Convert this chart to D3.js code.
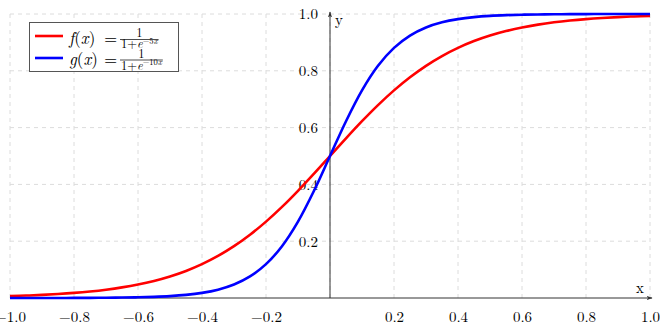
<!DOCTYPE html>
<html>
<head>
<meta charset="utf-8">
<script src="https://cdn.jsdelivr.net/npm/d3@7"></script>
<style>
  html, body { margin: 0; padding: 0; background: #fff; }
  svg { display: block; }
</style>
</head>
<body>
<svg id="chart" width="660" height="330"></svg>
<script>
// ---- data ----
const xValues = [-1.00,-0.95,-0.90,-0.85,-0.80,-0.75,-0.70,-0.65,-0.60,-0.55,-0.50,-0.45,-0.40,-0.35,-0.30,-0.25,-0.20,-0.15,-0.10,-0.05,
                 0.00,0.05,0.10,0.15,0.20,0.25,0.30,0.35,0.40,0.45,0.50,0.55,0.60,0.65,0.70,0.75,0.80,0.85,0.90,0.95,1.00];
const fValues = [0.0067,0.0086,0.0110,0.0141,0.0180,0.0230,0.0293,0.0373,0.0474,0.0601,0.0759,0.0953,0.1192,0.1480,0.1824,0.2227,0.2689,0.3208,0.3775,0.4378,
                 0.5000,0.5622,0.6225,0.6792,0.7311,0.7773,0.8176,0.8520,0.8808,0.9047,0.9241,0.9399,0.9526,0.9627,0.9707,0.9770,0.9820,0.9859,0.9890,0.9914,0.9933];
const gValues = [0.00005,0.00007,0.00012,0.0002,0.00034,0.00055,0.00091,0.0015,0.0025,0.0041,0.0067,0.0110,0.0180,0.0293,0.0474,0.0759,0.1192,0.1824,0.2689,0.3775,
                 0.5000,0.6225,0.7311,0.8176,0.8808,0.9241,0.9526,0.9707,0.9820,0.9890,0.9933,0.9959,0.9975,0.9985,0.99909,0.99945,0.99966,0.9998,0.99988,0.99993,0.99995];
const xTicks = [-1.0,-0.8,-0.6,-0.4,-0.2,0.2,0.4,0.6,0.8,1.0];
const yTicks = [0.2,0.4,0.6,0.8,1.0];
const xGrid = [-1.0,-0.8,-0.6,-0.4,-0.2,0,0.2,0.4,0.6,0.8,1.0];
const yGrid = [0.2,0.4,0.6,0.8,1.0];
const seriesNames = ["f", "g"];
const seriesExponents = ["\u22125", "\u221210"];
const seriesColors = ["#ff0000", "#0000ff"];

// ---- layout ----
const FONT = "'Latin Modern Roman', 'CMU Serif', 'Liberation Serif', serif";
const svg = d3.select("#chart");
const x = d3.scaleLinear().domain([-1, 1]).range([10, 650]);
const y = d3.scaleLinear().domain([0, 1]).range([298, 14]);
const fmt = d => d3.format(".1f")(d).replace("-", "\u2212");

// grid
const grid = svg.append("g").attr("stroke", "#dcdcdc").attr("stroke-width", 1).attr("stroke-dasharray", "4,4");
grid.selectAll("line.v").data(xGrid).join("line")
  .attr("x1", d => x(d)).attr("x2", d => x(d))
  .attr("y1", y(0)).attr("y2", y(1));
grid.selectAll("line.h").data(yGrid).join("line")
  .attr("x1", x(-1)).attr("x2", x(1))
  .attr("y1", d => y(d)).attr("y2", d => y(d));

// arrow marker
svg.append("defs").append("marker")
  .attr("id", "arr").attr("viewBox", "0 0 10 10").attr("refX", 9).attr("refY", 5)
  .attr("markerWidth", 6).attr("markerHeight", 6).attr("orient", "auto")
  .append("path").attr("d", "M0,1.5 L10,5 L0,8.5 L2.5,5 Z").attr("fill", "#333");

// axis lines
svg.append("line").attr("x1", x(-1)).attr("x2", x(1) + 2).attr("y1", y(0)).attr("y2", y(0))
  .attr("stroke", "#333").attr("stroke-width", 1).attr("marker-end", "url(#arr)");
svg.append("line").attr("x1", x(0)).attr("x2", x(0)).attr("y1", y(0)).attr("y2", y(1) - 2)
  .attr("stroke", "#333").attr("stroke-width", 1).attr("marker-end", "url(#arr)");

// tick labels via d3 axes
const xAxis = d3.axisBottom(x).tickValues(xTicks).tickFormat(fmt).tickSize(0).tickPadding(13);
const gx = svg.append("g").attr("transform", `translate(0,${y(0)})`).call(xAxis);
gx.select(".domain").remove();
gx.selectAll("text").style("font-family", FONT).style("font-size", "15px").attr("fill", "#000");

const yAxis = d3.axisLeft(y).tickValues(yTicks).tickFormat(fmt).tickSize(0).tickPadding(12);
const gy = svg.append("g").attr("transform", `translate(${x(0)},0)`).call(yAxis);
gy.select(".domain").remove();
gy.selectAll("text").style("font-family", FONT).style("font-size", "15px").attr("fill", "#000");

// axis labels
svg.append("text").attr("x", x(1) - 10).attr("y", y(0) - 5).style("font-family", FONT).style("font-size", "15px")
  .attr("text-anchor", "middle").text("x");
svg.append("text").attr("x", x(0) + 5).attr("y", y(1) + 11).style("font-family", FONT).style("font-size", "15px").text("y");

// curves
const line = d3.line().x((d, i) => x(xValues[i])).y(d => y(d)).curve(d3.curveCatmullRom.alpha(0.5));
[fValues, gValues].forEach((vals, i) => {
  svg.append("path").datum(vals).attr("d", line)
    .attr("fill", "none").attr("stroke", seriesColors[i]).attr("stroke-width", 2.6)
    .attr("stroke-linejoin", "round");
});

// legend
const lg = svg.append("g");
lg.append("rect").attr("x", 29.5).attr("y", 22.5).attr("width", 149).attr("height", 49)
  .attr("fill", "#fff").attr("stroke", "#555").attr("stroke-width", 1);
const rows = [{lineY: 36, base: 44, num: 37, bar: 39.5, den: 48},
              {lineY: 58, base: 64.5, num: 57.5, bar: 60, den: 69.5}];
rows.forEach((r, i) => {
  lg.append("line").attr("x1", 35).attr("x2", 63).attr("y1", r.lineY).attr("y2", r.lineY)
    .attr("stroke", seriesColors[i]).attr("stroke-width", 2.6);
  // one text element per legend entry: f(x) = 1 / (1+e^{-5x})
  const t = lg.append("text").attr("x", 69).attr("y", r.base).style("font-family", FONT).style("font-size", "17px");
  t.append("tspan").style("font-style", "italic").text(seriesNames[i]);
  t.append("tspan").text("(");
  t.append("tspan").style("font-style", "italic").text("x");
  t.append("tspan").text(")");
  t.append("tspan").attr("x", 104).text("=");
  const d1 = t.append("tspan").attr("x", 121).attr("y", r.den).style("font-size", "12.5px").text("1+");
  const d2 = t.append("tspan").style("font-size", "12.5px").style("font-style", "italic").text("e");
  const d3s = t.append("tspan").style("font-size", "8.5px").attr("dy", -4.5).text(seriesExponents[i]);
  const d4 = t.append("tspan").style("font-size", "8.5px").style("font-style", "italic").text("x");
  const w = [d1, d2, d3s, d4].reduce((s, n) => s + n.node().getComputedTextLength(), 0);
  t.append("tspan").attr("x", 121 + w / 2).attr("y", r.num).attr("text-anchor", "middle")
    .style("font-size", "12.5px").text("1");
  lg.append("line").attr("x1", 120).attr("x2", 122 + w).attr("y1", r.bar).attr("y2", r.bar)
    .attr("stroke", "#000").attr("stroke-width", 0.7);
});
</script>
</body>
</html>
